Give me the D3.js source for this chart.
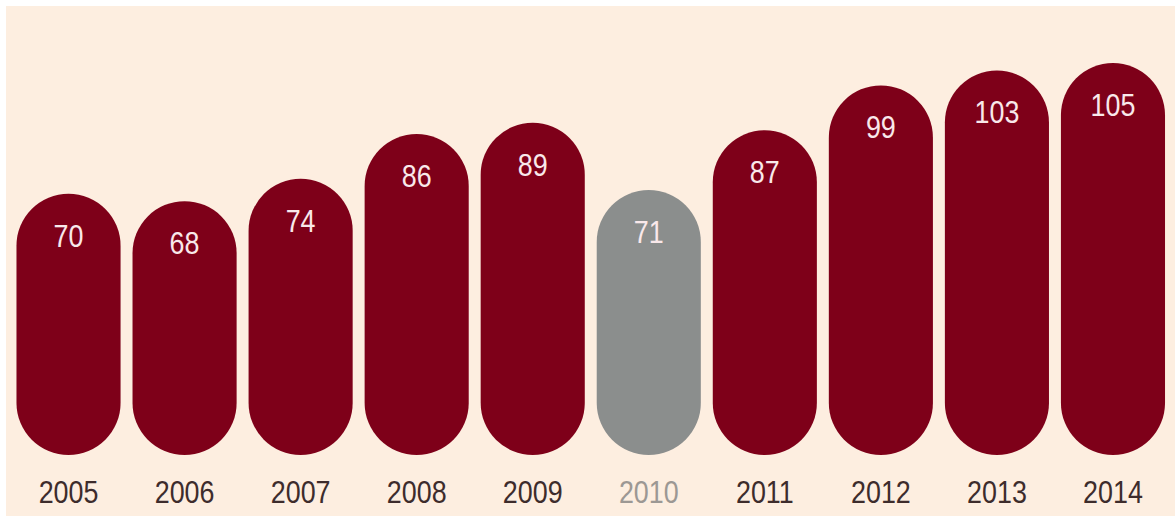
<html>
<head>
<meta charset="utf-8">
<title>Pill bars</title>
<style type="text/css">
body { margin: 0; background: #ffffff; }
</style>
</head>
<body>
<script src="https://d3js.org/d3.v7.min.js"></script>
<script>

// data
var years = ["2005", "2006", "2007", "2008", "2009", "2010", "2011", "2012", "2013", "2014"];
var values = [70, 68, 74, 86, 89, 71, 87, 99, 103, 105];
var highlight = ["2010"];

var width = 1175,
    height = 519;

var svg = d3.select("body").append("svg")
    .attr("width", width)
    .attr("height", height);

// cream panel with a thin white frame on top and left
svg.append("rect")
    .attr("x", 6)
    .attr("y", 6)
    .attr("width", width - 6)
    .attr("height", height - 9)
    .style("fill", "#fdeee0");

var x = d3.scaleBand()
    .domain(years)
    .range([10.5, 1171])
    .paddingInner(0.103)
    .paddingOuter(0.0515);

var y = d3.scaleLinear()
    .domain([0, 105])
    .range([455, 63]);

var data = years.map(function(d, i) { return {year: d, value: values[i]}; });
var r = x.bandwidth() / 2;

// pills
svg.selectAll(".bar")
    .data(data)
    .enter().append("rect")
    .attr("class", "bar")
    .attr("x", function(d) { return x(d.year); })
    .attr("y", function(d) { return y(d.value); })
    .attr("width", x.bandwidth())
    .attr("height", function(d) { return y(0) - y(d.value); })
    .attr("rx", r)
    .attr("ry", r)
    .style("fill", function(d) { return highlight.indexOf(d.year) >= 0 ? "#8b8e8d" : "#7e0019"; });

// values inside the pills
svg.selectAll(".val")
    .data(data)
    .enter().append("text")
    .attr("class", "val")
    .attr("text-anchor", "middle")
    .attr("transform", function(d) {
        return "translate(" + (x(d.year) + r) + "," + (y(d.value) + 53) + ") scale(0.84,1)";
    })
    .style("font-family", "'Liberation Sans', Arial, sans-serif")
    .style("font-size", "32px")
    .style("fill", "#f9e8ea")
    .text(function(d) { return d.value; });

// year labels
svg.selectAll(".year")
    .data(data)
    .enter().append("text")
    .attr("class", "year")
    .attr("text-anchor", "middle")
    .attr("transform", function(d) {
        return "translate(" + (x(d.year) + r) + ",503) scale(0.84,1)";
    })
    .style("font-family", "'Liberation Sans', Arial, sans-serif")
    .style("font-size", "32px")
    .style("fill", function(d) { return highlight.indexOf(d.year) >= 0 ? "#9c9894" : "#3d2c2c"; })
    .text(function(d) { return d.year; });

</script>
</body>
</html>
